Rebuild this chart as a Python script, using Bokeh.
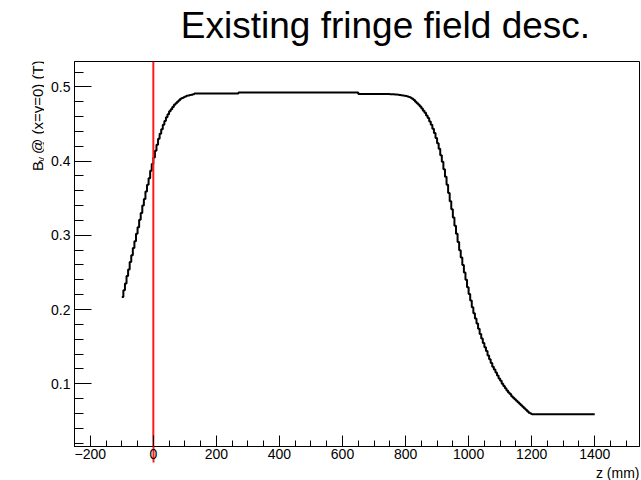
import numpy as np
from bokeh.plotting import figure
from bokeh.layouts import row, column
from bokeh.models import Range1d, FixedTicker, Title, LinearAxis
from bokeh.core.properties import value
from bokeh.embed import file_html
from bokeh.resources import INLINE

# ---- data: B_y along z, histogram with 5 mm bins starting at -100 mm ----
bin_start = -100
bin_width = 5
rise = [0.217, 0.226, 0.235, 0.245, 0.254, 0.264, 0.273, 0.283, 0.292, 0.302,
        0.311, 0.321, 0.330, 0.340, 0.349, 0.359, 0.368, 0.377, 0.387, 0.396]
shoulder = [0.405, 0.414, 0.422, 0.430, 0.437, 0.443, 0.449, 0.454, 0.459, 0.463,
            0.467, 0.470, 0.473, 0.476, 0.478, 0.480, 0.482, 0.484, 0.485, 0.486,
            0.487, 0.488, 0.4885, 0.489, 0.4895, 0.490]
plateau_a = [0.491, 0.491, 0.491, 0.491, 0.491, 0.491, 0.491, 0.491, 0.491, 0.491,
             0.491, 0.491, 0.491, 0.491, 0.491, 0.491, 0.491, 0.491, 0.491, 0.491,
             0.491, 0.491, 0.491, 0.491, 0.491, 0.491, 0.491, 0.491]
plateau_b = [0.4925, 0.4925, 0.4925, 0.4925, 0.4925, 0.4925, 0.4925, 0.4925, 0.4925, 0.4925,
             0.4925, 0.4925, 0.4925, 0.4925, 0.4925, 0.4925, 0.4925, 0.4925, 0.4925, 0.4925,
             0.4925, 0.4925, 0.4925, 0.4925, 0.4925, 0.4925, 0.4925, 0.4925, 0.4925, 0.4925,
             0.4925, 0.4925, 0.4925, 0.4925, 0.4925, 0.4925, 0.4925, 0.4925, 0.4925, 0.4925,
             0.4925, 0.4925, 0.4925, 0.4925, 0.4925, 0.4925, 0.4925, 0.4925, 0.4925, 0.4925,
             0.4925, 0.4925, 0.4925, 0.4925, 0.4925, 0.4925, 0.4925, 0.4925, 0.4925, 0.4925,
             0.4925, 0.4925, 0.4925, 0.4925, 0.4925, 0.4925, 0.4925, 0.4925, 0.4925, 0.4925,
             0.4925, 0.4925, 0.4925, 0.4925, 0.4925, 0.4925]
plateau_c = [0.4905, 0.4905, 0.4905, 0.4905, 0.4905, 0.4905, 0.4905, 0.4905, 0.4905, 0.4905,
             0.4905, 0.4905, 0.4905, 0.4905, 0.4905, 0.4905, 0.4905, 0.4905, 0.4905, 0.4905]
fall = [0.4902, 0.4900, 0.4899, 0.4897, 0.4896, 0.4894, 0.4891, 0.4888, 0.4885, 0.4881,
        0.4877, 0.4872, 0.4865, 0.4855, 0.4840, 0.4822, 0.480, 0.478, 0.476, 0.4735,
        0.471, 0.468, 0.465, 0.4615, 0.458, 0.4535, 0.449, 0.4435, 0.438, 0.431,
        0.424, 0.4165, 0.408, 0.399, 0.389, 0.379, 0.368, 0.357, 0.346, 0.335,
        0.324, 0.313, 0.302, 0.291, 0.280, 0.270, 0.260, 0.250, 0.240, 0.230,
        0.221, 0.212, 0.203, 0.195, 0.188, 0.181, 0.174, 0.167, 0.161, 0.155,
        0.149, 0.144, 0.138, 0.133, 0.128, 0.123, 0.119, 0.115, 0.111, 0.107,
        0.104, 0.100, 0.097, 0.094, 0.091, 0.088, 0.086, 0.083, 0.081, 0.079,
        0.077, 0.075, 0.073, 0.071, 0.069, 0.067, 0.065, 0.063, 0.061, 0.060]
tail = [0.059, 0.059, 0.059, 0.059, 0.059, 0.059, 0.059, 0.059, 0.059, 0.059,
        0.059, 0.059, 0.059, 0.059, 0.059, 0.059, 0.059, 0.059, 0.059, 0.059,
        0.059, 0.059, 0.059, 0.059, 0.059, 0.059, 0.059, 0.059, 0.059, 0.059,
        0.059, 0.059, 0.059, 0.059, 0.059, 0.059, 0.059, 0.059, 0.059, 0.059]
values = rise + shoulder + plateau_a + plateau_b + plateau_c + fall + tail

marker_z = 0
x_ticks = [-200, 0, 200, 400, 600, 800, 1000, 1200, 1400]
y_ticks = [0.1, 0.2, 0.3, 0.4, 0.5]
x_minor = [float(v) for v in np.arange(-250, 1551, 50)]
y_minor = [round(float(v), 2) for v in np.arange(0.02, 0.54, 0.02)]
x_lo, x_hi = -250, 1542
y_lo, y_hi = 0.0154, 0.5342

title_text = "Existing fringe field desc."
x_label = "z (mm)"
y_label_main, y_label_sub, y_label_rest = "B", "y", "@ (x=y=0) (T)"

edges = bin_start + bin_width * np.arange(len(values) + 1)
ys = values + [values[-1]]

FONT = "Liberation Sans"
RED = "#ff1a1a"
W, H = 641, 480
TOP_H = 55     # title strip height
LAB_W = 44     # y-title strip width
BODY_H = H - TOP_H


def blank(width, height):
    f = figure(width=width, height=height, output_backend="svg", toolbar_location=None,
               x_range=Range1d(0, width), y_range=Range1d(0, height),
               x_axis_type=None, y_axis_type=None, min_border=0, title_location=None)
    f.outline_line_color = None
    f.xgrid.visible = False
    f.ygrid.visible = False
    return f


# ---- title strip ----
top = blank(W, TOP_H)
top.text(x=[385], y=[TOP_H - 25], text=[title_text], text_font=value(FONT),
         text_font_size="37px", text_color="black", text_align="center",
         text_baseline="alphabetic")

# ---- main plot ----
p = figure(width=W - LAB_W, height=BODY_H, output_backend="svg", toolbar_location=None,
           x_range=Range1d(x_lo, x_hi), y_range=Range1d(y_lo, y_hi),
           x_axis_location=None,
           min_border_left=74 - LAB_W, min_border_right=2, min_border_top=61 - TOP_H,
           min_border_bottom=34, title_location=None)
p.xgrid.visible = False
p.ygrid.visible = False
p.outline_line_color = "black"
p.outline_line_width = 1

# y axis
p.yaxis.ticker = FixedTicker(ticks=y_ticks, minor_ticks=y_minor)
ya = p.yaxis[0]
ya.major_tick_in, ya.major_tick_out = 17, 0
ya.minor_tick_in, ya.minor_tick_out = 9, 0
ya.axis_line_color = "black"
ya.major_label_text_font = FONT
ya.major_label_text_font_size = "14px"
ya.major_label_text_color = "black"
ya.major_label_standoff = 4

# x axis, part 1: inward ticks only
xa_ticks = LinearAxis(ticker=FixedTicker(ticks=x_ticks, minor_ticks=x_minor),
                      major_tick_in=11, major_tick_out=0, minor_tick_in=6, minor_tick_out=0,
                      axis_line_color="black", major_tick_line_color="black",
                      minor_tick_line_color="black", major_label_text_font_size="1px",
                      major_label_text_color=None, major_label_standoff=0)
p.add_layout(xa_ticks, "below")
# x axis, part 2: the red marker continues below the axis line
xa_mark = LinearAxis(ticker=FixedTicker(ticks=[marker_z], minor_ticks=[]),
                     major_tick_in=0, major_tick_out=16, minor_tick_in=0, minor_tick_out=0,
                     axis_line_color=None, major_tick_line_color=RED, major_tick_line_width=2,
                     major_label_text_font_size="1px", major_label_text_color=None,
                     major_label_standoff=0)
p.add_layout(xa_mark, "below")
# x axis, part 3: tick labels
xa_lab = LinearAxis(ticker=FixedTicker(ticks=x_ticks, minor_ticks=[]),
                    major_tick_in=0, major_tick_out=0, minor_tick_in=0, minor_tick_out=0,
                    axis_line_color=None, major_tick_line_color=None, minor_tick_line_color=None,
                    major_label_text_font=FONT, major_label_text_font_size="14px",
                    major_label_text_color="black", major_label_standoff=-14)
p.add_layout(xa_lab, "below")

p.step(x=edges, y=ys, mode="after", line_color="black", line_width=2)
p.segment(x0=[marker_z], y0=[0], x1=[marker_z], y1=[y_hi], line_color=RED, line_width=2)

p.add_layout(Title(text=x_label, align="right", text_font=FONT, text_font_size="14px",
                   text_font_style="normal", text_color="black", standoff=0), "below")

# ---- y-axis title strip (left) ----
lab = blank(LAB_W, BODY_H)
lab.text(x=[37], y=[BODY_H - (176 - TOP_H)], text=[y_label_main], angle=np.pi / 2,
         text_font=value(FONT), text_font_size="15px", text_color="black",
         text_align="left", text_baseline="alphabetic")
lab.text(x=[40.5], y=[BODY_H - (166 - TOP_H)], text=[y_label_sub], angle=np.pi / 2,
         text_font=value(FONT), text_font_size="10px", text_color="black",
         text_align="left", text_baseline="alphabetic")
lab.text(x=[37], y=[BODY_H - (157 - TOP_H)], text=[y_label_rest], angle=np.pi / 2,
         text_font=value(FONT), text_font_size="15px", text_color="black",
         text_align="left", text_baseline="alphabetic")

layout = column(top, row(lab, p, spacing=0), spacing=0)
open("out.html", "w").write(file_html(layout, INLINE))
